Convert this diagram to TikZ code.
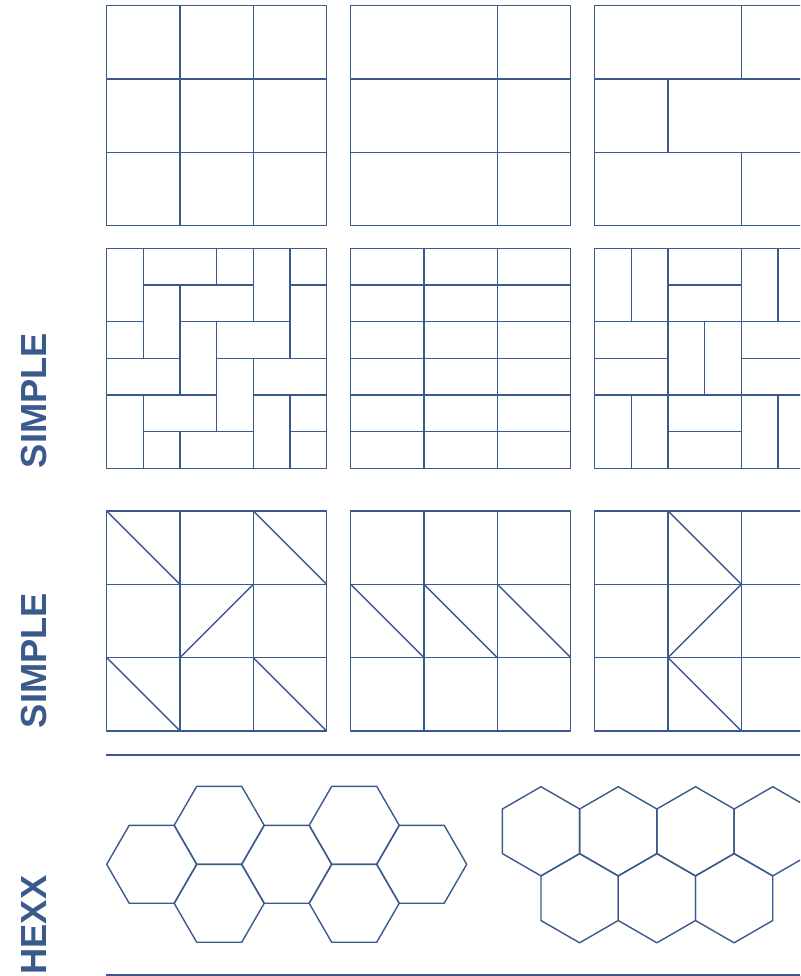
\documentclass[tikz,border=0pt]{standalone}
\usepackage{fontspec}
\setmainfont{Liberation Sans}
\definecolor{tile}{RGB}{58,90,140}
\begin{document}
\begin{tikzpicture}[x=1pt,y=-1pt,
  line/.style={draw=tile, line width=1.4pt, line join=round},
  lbl/.style={text=tile, font=\fontsize{36.3}{36}\selectfont\bfseries, rotate=90, inner sep=0pt},
  cell/.style={shift={#1}, x=36.667pt, y=-36.667pt}]
\useasboundingbox (0,0) rectangle (800,976);
\clip (0,0) rectangle (800,976);

% ---------- row 1 ----------
\begin{scope}[cell={(106.7,5.7)}]
  \draw[line] (0,0) rectangle (6,6);
  \draw[line] (2,0) -- (2,6) (4,0) -- (4,6) (0,2) -- (6,2) (0,4) -- (6,4);
\end{scope}
\begin{scope}[cell={(350.7,5.7)}]
  \draw[line] (0,0) rectangle (6,6);
  \draw[line] (4,0) -- (4,6) (0,2) -- (6,2) (0,4) -- (6,4);
\end{scope}
\begin{scope}[cell={(594.7,5.7)}]
  \draw[line] (0,0) rectangle (6,6);
  \draw[line] (0,2) -- (6,2) (0,4) -- (6,4) (4,0) -- (4,2) (4,4) -- (4,6) (2,2) -- (2,4);
\end{scope}

% ---------- row 2 ----------
\begin{scope}[cell={(106.7,248.3)}]
  \draw[line] (0,0) rectangle (6,6);
  \draw[line] (1,1) -- (4,1) (5,1) -- (6,1)
              (0,2) -- (1,2) (2,2) -- (5,2)
              (0,3) -- (2,3) (3,3) -- (6,3)
              (0,4) -- (3,4) (4,4) -- (6,4)
              (1,5) -- (4,5) (5,5) -- (6,5);
  \draw[line] (1,0) -- (1,3) (1,4) -- (1,6)
              (2,1) -- (2,4) (2,5) -- (2,6)
              (3,0) -- (3,1) (3,2) -- (3,5)
              (4,0) -- (4,2) (4,3) -- (4,6)
              (5,0) -- (5,3) (5,4) -- (5,6);
\end{scope}
\begin{scope}[cell={(350.7,248.3)}]
  \draw[line] (0,0) rectangle (6,6);
  \draw[line] (2,0) -- (2,6) (4,0) -- (4,6);
  \foreach \r in {1,...,5} \draw[line] (0,\r) -- (6,\r);
\end{scope}
\begin{scope}[cell={(594.7,248.3)}]
  \draw[line] (0,0) rectangle (6,6);
  \draw[line] (1,0) -- (1,2) (1,4) -- (1,6)
              (2,0) -- (2,6) (3,2) -- (3,4) (4,0) -- (4,6)
              (5,0) -- (5,2) (5,4) -- (5,6);
  \draw[line] (2,1) -- (4,1) (0,2) -- (6,2) (0,3) -- (2,3) (4,3) -- (6,3)
              (0,4) -- (6,4) (2,5) -- (4,5);
\end{scope}

% ---------- row 3 ----------
\begin{scope}[cell={(106.7,511)}]
  \draw[line] (0,0) rectangle (6,6);
  \draw[line] (2,0) -- (2,6) (4,0) -- (4,6) (0,2) -- (6,2) (0,4) -- (6,4);
  \draw[line] (0,0) -- (2,2) (4,0) -- (6,2) (2,4) -- (4,2) (0,4) -- (2,6) (4,4) -- (6,6);
\end{scope}
\begin{scope}[cell={(350.7,511)}]
  \draw[line] (0,0) rectangle (6,6);
  \draw[line] (2,0) -- (2,6) (4,0) -- (4,6) (0,2) -- (6,2) (0,4) -- (6,4);
  \draw[line] (0,2) -- (2,4) (2,2) -- (4,4) (4,2) -- (6,4);
\end{scope}
\begin{scope}[cell={(594.7,511)}]
  \draw[line] (0,0) rectangle (6,6);
  \draw[line] (2,0) -- (2,6) (4,0) -- (4,6) (0,2) -- (6,2) (0,4) -- (6,4);
  \draw[line] (2,0) -- (4,2) -- (2,4) -- (4,6);
\end{scope}

% ---------- separators ----------
\coordinate (s1a) at (106,755);
\coordinate (s1b) at (800,755);
\coordinate (s2a) at (106,975);
\coordinate (s2b) at (800,975);
\draw[line] (s1a) -- (s1b);
\draw[line] (s2a) -- (s2b);

% ---------- hexagons (flat top) ----------
\foreach \cx/\cy in {151.7/864.3, 219.2/825.3, 219.2/903.3, 286.7/864.3,
                     354.2/825.3, 354.2/903.3, 421.7/864.3}
  \draw[line] (\cx,\cy) ++(0:45) -- ++(120:45) -- ++(180:45) -- ++(240:45)
              -- ++(300:45) -- ++(0:45) -- cycle;

% ---------- hexagons (pointy top) ----------
\foreach \cx/\cy in {541/831.3, 618.25/831.3, 695.5/831.3, 772.75/831.3,
                     579.6/898.2, 656.9/898.2, 734.1/898.2}
  \draw[line] (\cx,\cy) ++(90:44.6) -- ++(210:44.6) -- ++(270:44.6) -- ++(330:44.6)
              -- ++(30:44.6) -- ++(90:44.6) -- cycle;

% ---------- labels ----------
\node[lbl] (simple1) at (34,400.5) {SIMPLE};
\node[lbl] (simple2) at (34,660.5) {SIMPLE};
\node[lbl] (hexx) at (34.5,925) {HEXX};
\end{tikzpicture}
\end{document}
